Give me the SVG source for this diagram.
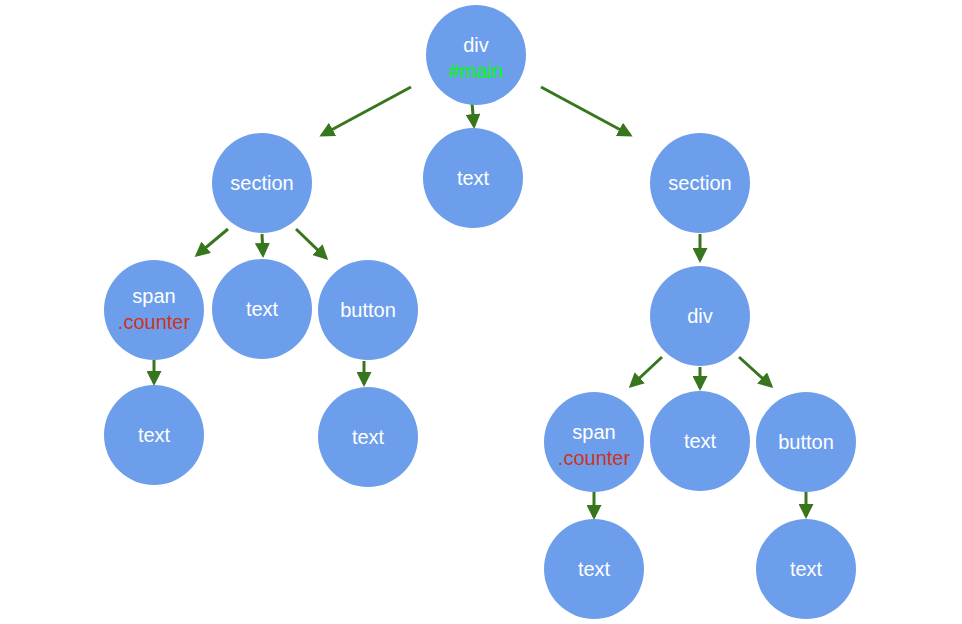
<svg xmlns="http://www.w3.org/2000/svg" width="962" height="624" viewBox="0 0 962 624">
<style>
circle{fill:#6d9eeb}
text{font-family:"Liberation Sans",Arial,sans-serif;font-size:20px;fill:#fff;text-anchor:middle}
.g{fill:#00ff00}.r{fill:#cc3322}
#edges line{stroke:#38761d;stroke-width:3;marker-end:url(#a)}
</style>
<defs><marker id="a" markerWidth="5" markerHeight="5" refX="4" refY="2.5" orient="auto"><path d="M0,0L5,2.5L0,5z" fill="#38761d"/></marker></defs>
<rect width="962" height="624" fill="#fff"/>
<g id="edges">
<line x1="411" y1="87" x2="322" y2="135"/>
<line x1="472" y1="103" x2="474" y2="126"/>
<line x1="541" y1="87" x2="630" y2="135"/>
<line x1="228" y1="229" x2="197" y2="255"/>
<line x1="262" y1="234" x2="263" y2="255"/>
<line x1="296" y1="229" x2="326" y2="258"/>
<line x1="154" y1="360" x2="154" y2="383"/>
<line x1="364" y1="361" x2="364" y2="384"/>
<line x1="700" y1="234" x2="700" y2="260"/>
<line x1="662" y1="357" x2="631" y2="386"/>
<line x1="700" y1="367" x2="700" y2="388"/>
<line x1="739" y1="357" x2="771" y2="386"/>
<line x1="594" y1="492" x2="594" y2="517"/>
<line x1="806" y1="492" x2="806" y2="516"/>
</g>
<g id="n1"><circle cx="476" cy="55" r="50"/><text x="476" y="52">div</text><text class="g" x="476" y="78">#main</text></g>
<g id="n2"><circle cx="473" cy="178" r="50"/><text x="473" y="185">text</text></g>
<g id="n3"><circle cx="262" cy="183" r="50"/><text x="262" y="190">section</text></g>
<g id="n4"><circle cx="700" cy="183" r="50"/><text x="700" y="190">section</text></g>
<g id="n5"><circle cx="154" cy="310" r="50"/><text x="154" y="303">span</text><text class="r" x="154" y="329">.counter</text></g>
<g id="n6"><circle cx="262" cy="309" r="50"/><text x="262" y="316">text</text></g>
<g id="n7"><circle cx="368" cy="310" r="50"/><text x="368" y="317">button</text></g>
<g id="n8"><circle cx="154" cy="435" r="50"/><text x="154" y="442">text</text></g>
<g id="n9"><circle cx="368" cy="437" r="50"/><text x="368" y="444">text</text></g>
<g id="n10"><circle cx="700" cy="316" r="50"/><text x="700" y="323">div</text></g>
<g id="n11"><circle cx="594" cy="442" r="50"/><text x="594" y="439">span</text><text class="r" x="594" y="465">.counter</text></g>
<g id="n12"><circle cx="700" cy="441" r="50"/><text x="700" y="448">text</text></g>
<g id="n13"><circle cx="806" cy="442" r="50"/><text x="806" y="449">button</text></g>
<g id="n14"><circle cx="594" cy="569" r="50"/><text x="594" y="576">text</text></g>
<g id="n15"><circle cx="806" cy="569" r="50"/><text x="806" y="576">text</text></g>
</svg>
